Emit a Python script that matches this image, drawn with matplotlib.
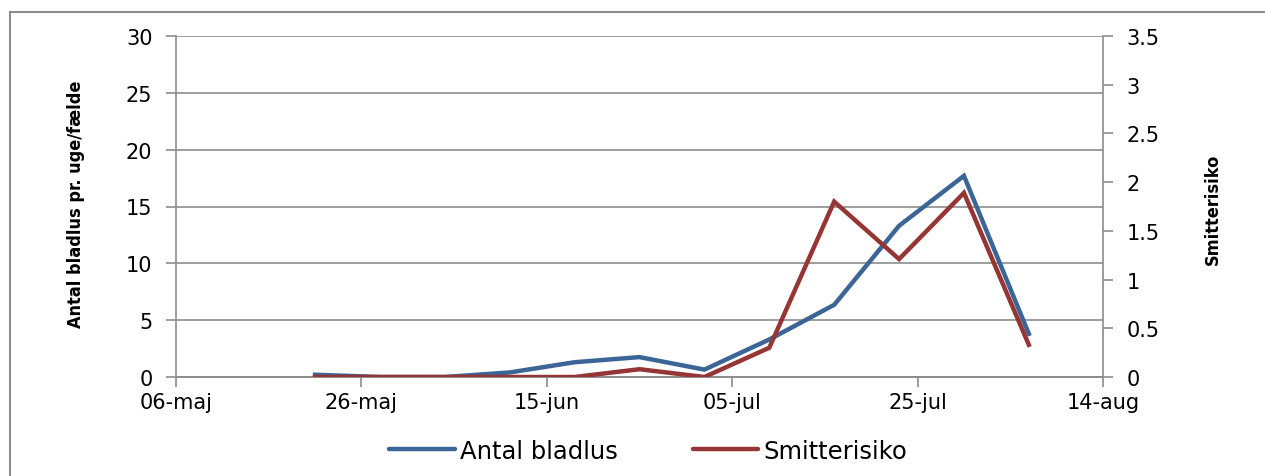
import datetime as dt
import matplotlib
matplotlib.use("Agg")
import matplotlib.pyplot as plt
from matplotlib.patches import Rectangle

# weekly observations
dates = ["2013-05-21", "2013-05-28", "2013-06-04", "2013-06-11", "2013-06-18",
         "2013-06-25", "2013-07-02", "2013-07-09", "2013-07-16", "2013-07-23",
         "2013-07-30", "2013-08-06"]
antal_bladlus = [0.2, 0.0, 0.0, 0.4, 1.3, 1.75, 0.65, 3.3, 6.35, 13.3, 17.7, 3.8]
smitterisiko = [0.0, 0.0, 0.0, 0.0, 0.0, 0.08, 0.0, 0.30, 1.80, 1.21, 1.89, 0.33]

left_ticks = [0, 5, 10, 15, 20, 25, 30]
right_ticks = [0, 0.5, 1, 1.5, 2, 2.5, 3, 3.5]
right_labels = ["0", "0.5", "1", "1.5", "2", "2.5", "3", "3.5"]
danish_months = ["jan", "feb", "mar", "apr", "maj", "jun", "jul", "aug",
                 "sep", "okt", "nov", "dec"]

x = [dt.datetime.strptime(d, "%Y-%m-%d") for d in dates]
start = dt.datetime(2013, 5, 6)
xticks = [start + dt.timedelta(days=20 * i) for i in range(6)]

blue = "#3B6497"
red = "#963634"
grid = "#8C8C8C"

fig = plt.figure(figsize=(12.65, 4.77), dpi=100)
ax = fig.add_axes([176 / 1265, 1 - 378 / 477, (1103 - 176) / 1265, (378 - 37) / 477])
ax2 = ax.twinx()

ax.plot(x, antal_bladlus, color=blue, lw=3.2, solid_joinstyle="miter", zorder=3)
ax2.plot(x, smitterisiko, color=red, lw=3.2, solid_joinstyle="miter", zorder=3)

ax.set_xlim(xticks[0], xticks[-1])
ax.set_ylim(0, 30)
ax2.set_ylim(0, 3.5)
ax.set_yticks(left_ticks)
ax2.set_yticks(right_ticks)
ax2.set_yticklabels(right_labels)
ax.set_xticks(xticks)
ax.set_xticklabels([f"{d.day:02d}-{danish_months[d.month - 1]}" for d in xticks])

ax.grid(axis="y", color=grid, lw=1.2)
ax.set_axisbelow(True)
for a in (ax, ax2):
    a.spines["top"].set_visible(False)
    for s in ("left", "right", "bottom"):
        a.spines[s].set_color(grid)
        a.spines[s].set_linewidth(1.2)
    a.tick_params(colors=grid, labelcolor="black", labelsize=15, length=7, width=1.2)
ax2.spines["left"].set_visible(False)
ax.spines["right"].set_visible(False)
ax.tick_params(axis="y", pad=10)
ax2.tick_params(axis="y", pad=10)
ax.tick_params(axis="x", pad=4)

lab_font = dict(family="DejaVu Sans", stretch="condensed", weight="bold", fontsize=13)
fig.text(76 / 1265, 1 - 204 / 477, "Antal bladlus pr. uge/fælde", rotation=90,
         ha="center", va="center", **lab_font)
fig.text(1213 / 1265, 1 - 209 / 477, "Smitterisiko", rotation=90,
         ha="center", va="center", **lab_font)

h1 = plt.Line2D([], [], color=blue, lw=3.2, solid_capstyle="round")
h2 = plt.Line2D([], [], color=red, lw=3.2, solid_capstyle="round")
fig.legend([h1, h2], ["Antal bladlus", "Smitterisiko"], loc="center",
           bbox_to_anchor=(648 / 1265, 1 - 452 / 477), ncol=2, frameon=False,
           fontsize=17.5, handlelength=2.7, handletextpad=0.2, columnspacing=3.1)

fig.add_artist(Rectangle((10 / 1265, -0.1), 1.2, 1.1 - 13 / 477, transform=fig.transFigure,
                         fill=False, edgecolor="#8C8C8C", lw=1.5))

fig.savefig("out.png", dpi=100)
